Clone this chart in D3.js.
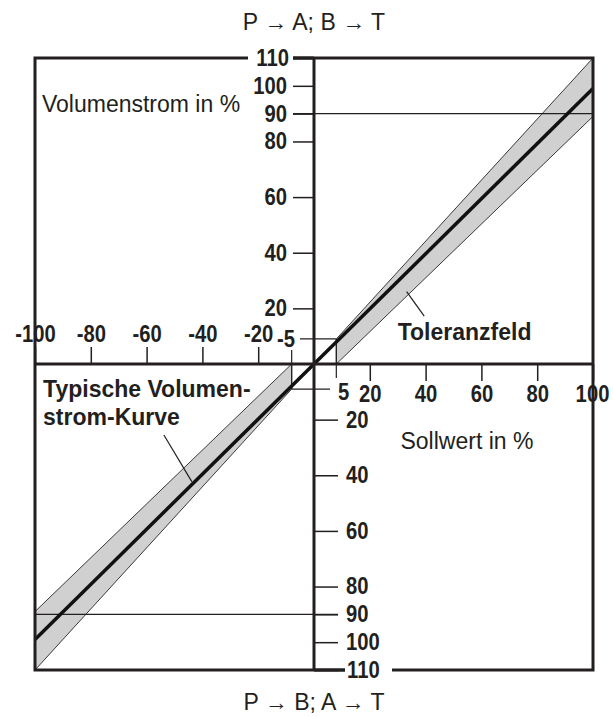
<!DOCTYPE html>
<html><head><meta charset="utf-8">
<script src="https://cdn.jsdelivr.net/npm/d3@7"></script>
<style>
html,body{margin:0;padding:0;background:#fff;}
svg{display:block;}
</style></head>
<body>
<script>
// ---- data ----
const xTicksNeg = [-100, -80, -60, -40, -20];
const xTicksPos = [20, 40, 60, 80, 100];
const yTicksPos = [110, 100, 90, 80, 60, 40, 20];
const yTicksNeg = [-20, -40, -60, -80, -90, -100, -110];
const refLevels = [90, -90];
const tolStartX = [8, -8];          // x where tolerance field begins (unlabelled ticks)
const tolStartY = [9, -9];          // y ticks labelled "-5" / "5"
const tolStartYLabels = ["-5", "5"];
const curve = [[-100, -99], [0, 0], [100, 99]];           // typical flow curve
const tolUpper = [[8, 0], [100, 89], [100, 110], [8, 9]];   // tolerance field, quadrant I
const tolLower = [[-8, 0], [-100, -89], [-100, -110], [-8, -9]]; // quadrant III
const titleTop = "P \u2192 A; B \u2192 T";
const titleBottom = "P \u2192 B; A \u2192 T";
const yTitle = "Volumenstrom in %";
const xTitle = "Sollwert in %";
const tolLabel = "Toleranzfeld";
const curveLabel = ["Typische Volumen-", "strom-Kurve"];

const W = 613, H = 717;
const ink = "#231f20";
const fReg = "'Liberation Sans',Arial,Helvetica,sans-serif";
const tickFont = 23, squeeze = 0.88;

const svg = d3.select("body").append("svg").attr("width", W).attr("height", H);

const x = d3.scaleLinear().domain([-100, 100]).range([35, 593]);
const y = d3.scaleLinear().domain([-110, 110]).range([670, 58]);
const line = d3.line().x(d => x(d[0])).y(d => y(d[1]));

function narrow(sel) {
  sel.each(function () {
    const w = this.getComputedTextLength();
    this.setAttribute("textLength", w * squeeze);
    this.setAttribute("lengthAdjust", "spacingAndGlyphs");
  });
}

// tolerance field
[tolUpper, tolLower].forEach(p => {
  svg.append("path").attr("d", line(p) + "Z")
    .attr("fill", "#d0d0d0").attr("stroke", "#3a3a3a").attr("stroke-width", 1);
});

// reference lines at 90 %
svg.append("line").attr("x1", x(0) - 21).attr("x2", x(100))
  .attr("y1", y(refLevels[0])).attr("y2", y(refLevels[0]))
  .attr("stroke", ink).attr("stroke-width", 1.2);
svg.append("line").attr("x1", x(-100)).attr("x2", x(0) + 24)
  .attr("y1", y(refLevels[1])).attr("y2", y(refLevels[1]))
  .attr("stroke", ink).attr("stroke-width", 1.2);

// tolerance start markers
svg.append("line").attr("x1", x(0) - 14).attr("x2", x(tolStartX[0]))
  .attr("y1", y(tolStartY[0])).attr("y2", y(tolStartY[0])).attr("stroke", ink).attr("stroke-width", 1.2);
svg.append("line").attr("x1", x(tolStartX[1])).attr("x2", x(0) + 16)
  .attr("y1", y(tolStartY[1])).attr("y2", y(tolStartY[1])).attr("stroke", ink).attr("stroke-width", 1.2);
svg.append("line").attr("x1", x(tolStartX[0])).attr("x2", x(tolStartX[0]))
  .attr("y1", y(tolStartY[0])).attr("y2", y(0) + 14).attr("stroke", ink).attr("stroke-width", 1.2);
svg.append("line").attr("x1", x(tolStartX[1])).attr("x2", x(tolStartX[1]))
  .attr("y1", y(0) - 14).attr("y2", y(tolStartY[1])).attr("stroke", ink).attr("stroke-width", 1.2);

// typical curve
svg.append("path").attr("d", line(curve)).attr("fill", "none")
  .attr("stroke", "#111").attr("stroke-width", 3.5);

// axes via d3.axis
function styleAxis(g) {
  g.select(".domain").remove();
  g.selectAll(".tick line").attr("stroke", ink).attr("stroke-width", 1.5);
  g.selectAll(".tick text").attr("fill", ink).attr("font-family", fReg)
    .attr("font-weight", "bold").attr("font-size", tickFont);
}
const fmt = d => String(d);
const xN = svg.append("g").attr("transform", `translate(0,${y(0)})`)
  .call(d3.axisTop(x).tickValues(xTicksNeg).tickSize(17).tickPadding(5).tickFormat(fmt))
  .call(styleAxis);
const xP = svg.append("g").attr("transform", `translate(0,${y(0)})`)
  .call(d3.axisBottom(x).tickValues(xTicksPos).tickSize(17).tickPadding(5).tickFormat(fmt))
  .call(styleAxis);
const yL = svg.append("g").attr("transform", `translate(${x(0)},0)`)
  .call(d3.axisLeft(y).tickValues(yTicksPos).tickSize(21).tickPadding(6).tickFormat(fmt))
  .call(styleAxis);
const yR = svg.append("g").attr("transform", `translate(${x(0)},0)`)
  .call(d3.axisRight(y).tickValues(yTicksNeg).tickSize(24).tickPadding(8).tickFormat(d => String(Math.abs(d))))
  .call(styleAxis);
// hide axis-generated 110 labels (drawn on the frame below)
yL.selectAll(".tick").filter(d => d === 110).select("text").remove();
yR.selectAll(".tick").filter(d => d === -110).select("text").remove();
[xN, xP, yL, yR].forEach(g => g.selectAll(".tick text").call(narrow));
// keep the right-most label inside the picture
xP.selectAll(".tick").filter(d => d === 100).select("text").attr("dx", -1);

// frame + axis lines
svg.append("rect").attr("x", x(-100)).attr("y", y(110)).attr("width", x(100) - x(-100))
  .attr("height", y(-110) - y(110)).attr("fill", "none").attr("stroke", ink).attr("stroke-width", 3);
svg.append("line").attr("x1", x(-100)).attr("x2", x(100)).attr("y1", y(0)).attr("y2", y(0))
  .attr("stroke", ink).attr("stroke-width", 3);
svg.append("line").attr("x1", x(0)).attr("x2", x(0)).attr("y1", y(110)).attr("y2", y(-110))
  .attr("stroke", ink).attr("stroke-width", 3);

// white gaps for the 110 labels on the frame
svg.append("rect").attr("x", x(0) - 66).attr("y", y(110) - 11).attr("width", 45).attr("height", 22).attr("fill", "#fff");
svg.append("rect").attr("x", x(0) + 31).attr("y", y(-110) - 11).attr("width", 47).attr("height", 22).attr("fill", "#fff");
function lbl(t, px, py, anchor) {
  svg.append("text").attr("x", px).attr("y", py).attr("dy", "0.36em").attr("text-anchor", anchor)
    .attr("font-family", fReg).attr("font-weight", "bold").attr("font-size", tickFont).attr("fill", ink).text(t)
    .call(narrow);
}
lbl("110", x(0) - 25, y(110), "end");
lbl("110", x(0) + 33, y(-110), "start");
svg.append("line").attr("x1", x(0) - 21).attr("x2", x(0)).attr("y1", y(110)).attr("y2", y(110)).attr("stroke", ink).attr("stroke-width", 3);
svg.append("line").attr("x1", x(0)).attr("x2", x(0) + 31).attr("y1", y(-110)).attr("y2", y(-110)).attr("stroke", ink).attr("stroke-width", 3);

// -5 / 5 labels
lbl(tolStartYLabels[0], x(0) - 19, y(tolStartY[0]), "end");
lbl(tolStartYLabels[1], x(0) + 24, y(tolStartY[1]) + 3, "start");

// texts
function txt(t, px, py, opts) {
  svg.append("text").attr("x", px).attr("y", py).attr("text-anchor", opts.anchor || "start")
    .attr("font-family", fReg).attr("font-weight", opts.bold ? "bold" : "normal")
    .attr("font-size", opts.size || 23).attr("fill", ink).text(t);
}
txt(titleTop, x(0), 30, {anchor: "middle"});
txt(titleBottom, x(0), 710, {anchor: "middle"});
txt(yTitle, x(-97.5), y(90.5), {});
txt(xTitle, x(31), y(-30.5), {});
txt(tolLabel, x(30), y(8.6), {bold: true});
txt(curveLabel[0], x(-97.1), y(-11.8), {bold: true});
txt(curveLabel[1], x(-97.1), y(-22), {bold: true});

// leader lines
svg.append("line").attr("x1", x(39.5)).attr("y1", y(17.2)).attr("x2", x(33.2)).attr("y2", y(26))
  .attr("stroke", ink).attr("stroke-width", 1.2);
svg.append("line").attr("x1", x(-53.8)).attr("y1", y(-25.5)).attr("x2", x(-43.8)).attr("y2", y(-42.3))
  .attr("stroke", ink).attr("stroke-width", 1.2);
</script>
</body></html>
